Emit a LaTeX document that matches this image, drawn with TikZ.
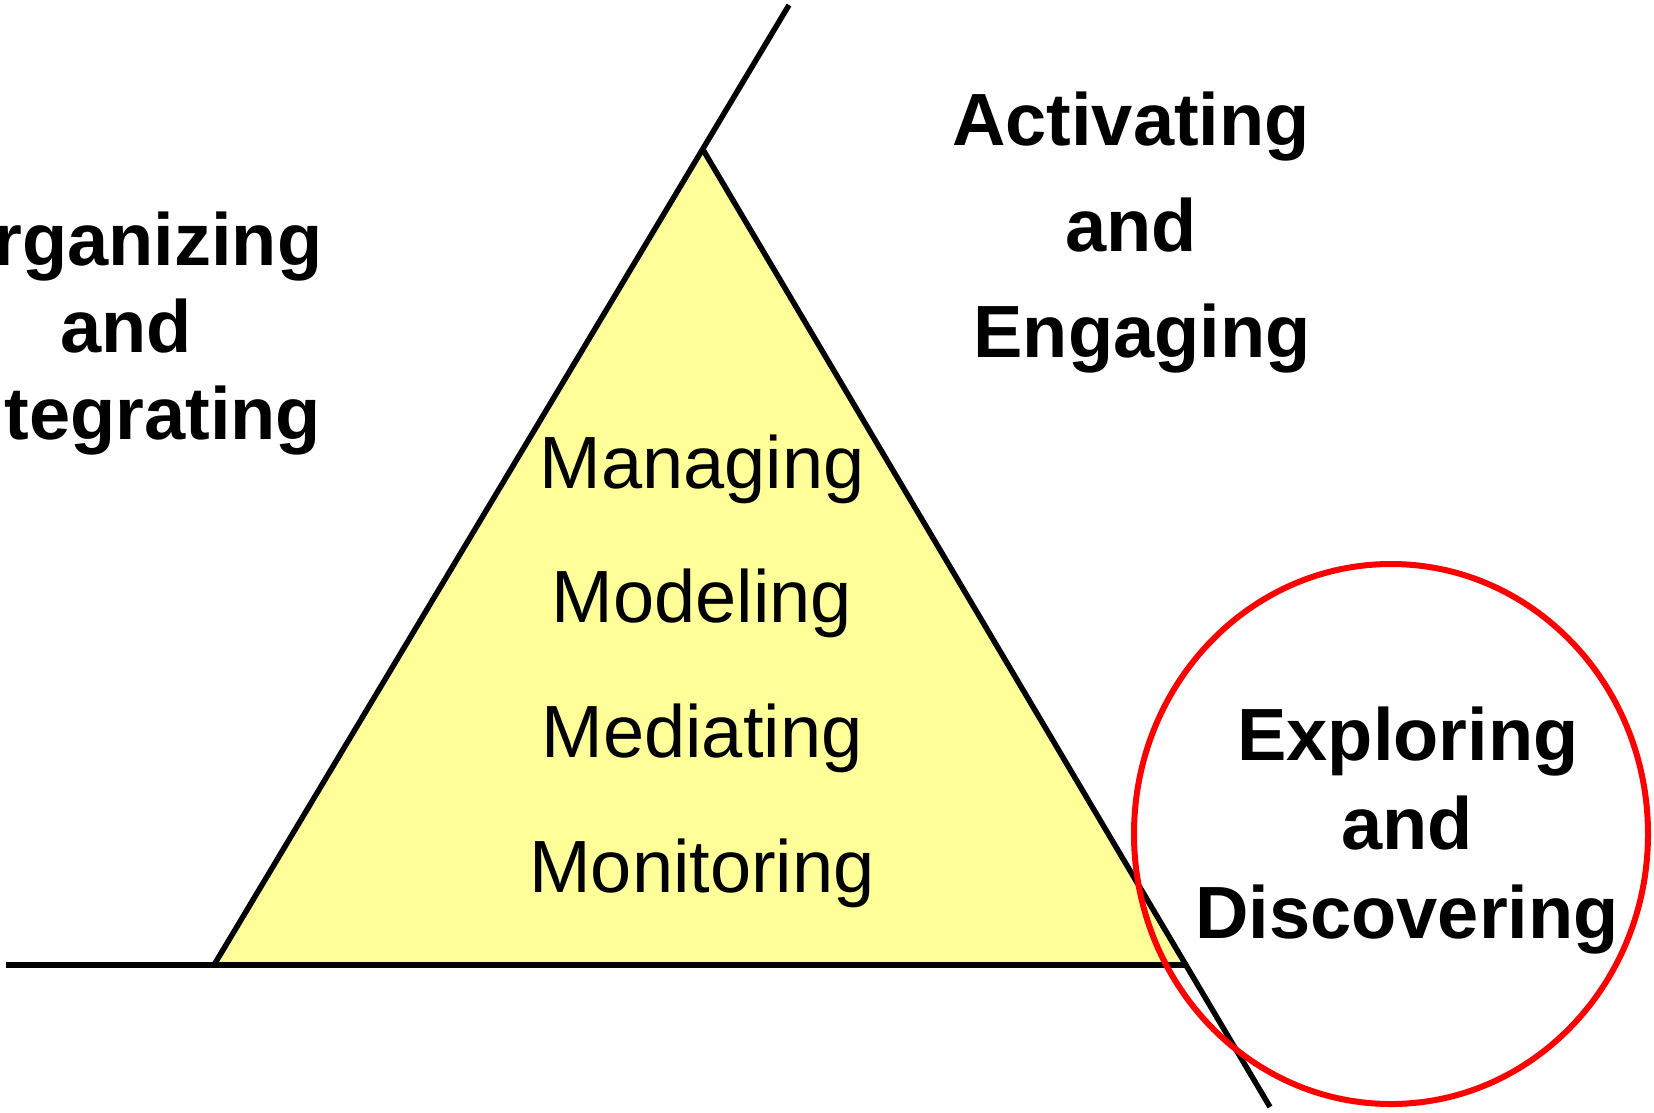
\documentclass[tikz,border=0pt]{standalone}
\usepackage{fontspec}
\setmainfont{Liberation Sans}
\usetikzlibrary{shapes.geometric}
\begin{document}
\begin{tikzpicture}[x=1pt,y=-1pt,
  edge/.style={line width=5.5pt,black},
  boldtxt/.style={inner sep=0pt,anchor=base,font=\fontsize{74}{80}\selectfont\bfseries},
  plaintxt/.style={inner sep=0pt,anchor=base,font=\fontsize{74}{80}\selectfont},
  ring/.style={draw=red,line width=6pt}]
\clip (0,0) rectangle (1654,1112);
\fill[white] (0,0) rectangle (1654,1112);
% triangle corners and free ends
\coordinate (L) at (214,965);
\coordinate (A) at (702,148);
\coordinate (R) at (1188,965);
\coordinate (baseEnd) at (6,965);
\coordinate (topEnd) at (789,5);
\coordinate (botEnd) at (1270,1107);
\fill[fill={rgb,255:red,255;green,255;blue,153}] (L) -- (A) -- (R) -- cycle;
\draw[edge] (baseEnd) -- (R);
\draw[edge] (L) -- (topEnd);
\draw[edge] (A) -- (botEnd);
% red circle
\node[ring,ellipse,minimum width=514pt,minimum height=540pt,inner sep=0pt] (circ) at (1391,834) {};
% left group
\node[boldtxt] (org) at (129,265) {Organizing};
\node[boldtxt] (organd) at (126,352) {and};
\node[boldtxt] (integ) at (130,439) {Integrating};
% top right group
\node[boldtxt] (act) at (1131,145) {Activating};
\node[boldtxt] (actand) at (1131,251) {and};
\node[boldtxt] (eng) at (1142,357) {Engaging};
% circle group
\node[boldtxt] (expl) at (1408,760) {Exploring};
\node[boldtxt] (explAnd) at (1407,849) {and};
\node[boldtxt] (disc) at (1407,938) {Discovering};
% triangle words
\node[plaintxt] (man) at (702,488) {Managing};
\node[plaintxt] (mod) at (702,622) {Modeling};
\node[plaintxt] (med) at (702,757) {Mediating};
\node[plaintxt] (mon) at (702,892) {Monitoring};
\end{tikzpicture}
\end{document}
